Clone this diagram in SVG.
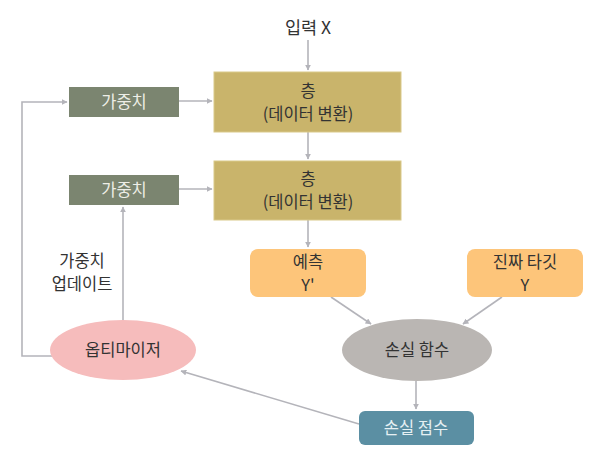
<svg xmlns="http://www.w3.org/2000/svg" width="616" height="472" viewBox="0 0 616 472">
<defs>
<marker id="ah" viewBox="0 0 10 10" refX="9" refY="5" markerWidth="6" markerHeight="6" markerUnits="userSpaceOnUse" orient="auto">
<path d="M0,0 L10,5 L0,10 z" fill="#b4b4ba"/>
</marker>
<style>
text{font-family:"Noto Sans CJK KR","Noto Sans",sans-serif;font-size:16.5px;text-anchor:middle;fill:#333}
.w{fill:#7b8570}
.wt{fill:#eeeee6}
.layer{fill:#c9b46b;stroke:#d9c98a;stroke-width:1}
.pred{fill:#fdc57a}
.c{fill:none;stroke:#b4b4ba;stroke-width:1.6}
.a{marker-end:url(#ah)}
</style>
</defs>
<rect width="616" height="472" fill="#fff"/>
<g id="connectors">
<line class="c a" x1="308" y1="40" x2="308" y2="70"/>
<line class="c a" x1="179" y1="101" x2="212" y2="101"/>
<line class="c a" x1="179" y1="189" x2="212" y2="189"/>
<line class="c a" x1="308" y1="132" x2="308" y2="159"/>
<line class="c a" x1="308" y1="220" x2="308" y2="247"/>
<line class="c a" x1="331" y1="297" x2="371" y2="324"/>
<line class="c a" x1="502" y1="297" x2="463" y2="324"/>
<line class="c a" x1="416" y1="381" x2="416" y2="409"/>
<line class="c a" x1="359" y1="424" x2="181" y2="371"/>
<polyline class="c a" points="52,356 22,356 22,102 67,102"/>
<line class="c a" x1="123" y1="320" x2="123" y2="207"/>
</g>
<g id="input"><text x="308" y="34" style="font-size:17.5px">입력 X</text></g>
<g id="weights1"><rect class="w" x="69" y="87" width="110" height="30"/><text class="wt" x="124" y="108">가중치</text></g>
<g id="weights2"><rect class="w" x="69" y="175" width="110" height="30"/><text class="wt" x="124" y="196">가중치</text></g>
<g id="layer1"><rect class="layer" x="214" y="72" width="187" height="60"/><text x="308" y="97">층</text><text x="308" y="120">(데이터 변환)</text></g>
<g id="layer2"><rect class="layer" x="214" y="161" width="187" height="59"/><text x="308" y="185">층</text><text x="308" y="208">(데이터 변환)</text></g>
<g id="prediction"><rect class="pred" x="250" y="249" width="116" height="48" rx="8"/><text x="308" y="268">예측</text><text x="308" y="291">Y'</text></g>
<g id="target"><rect class="pred" x="467" y="249" width="116" height="48" rx="8"/><text x="525" y="268">진짜 타깃</text><text x="525" y="291">Y</text></g>
<g id="loss"><ellipse cx="417" cy="350" rx="75" ry="31" fill="#bab6b3"/><text x="417" y="356">손실 함수</text></g>
<g id="score"><rect x="359" y="411" width="115" height="34" rx="6" fill="#5b8fa3"/><text x="416" y="434" style="fill:#e6f0f3">손실 점수</text></g>
<g id="optimizer"><ellipse cx="123" cy="350" rx="73" ry="30" fill="#f6bcbc"/><text x="123" y="356">옵티마이저</text></g>
<g id="update-label"><text x="82" y="267">가중치</text><text x="82" y="290">업데이트</text></g>
</svg>
